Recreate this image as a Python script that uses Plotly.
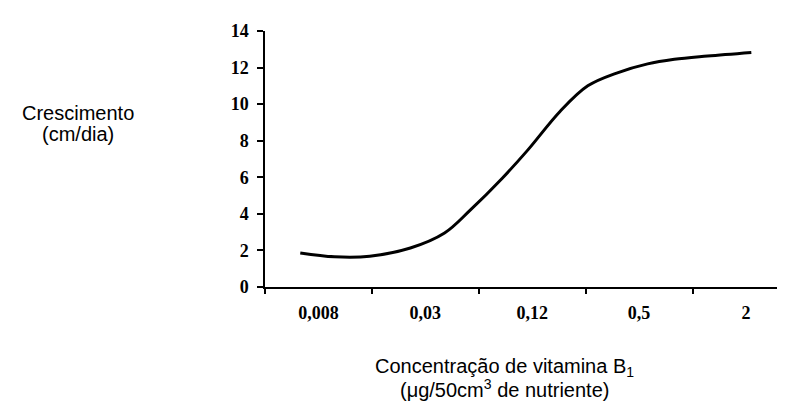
import plotly.graph_objects as go

# Category labels of the concentration axis (µg/50cm3)
conc_labels = ["0,008", "0,03", "0,12", "0,5", "2"]
conc_pos = [0, 1, 2, 3, 4]

# Curve (position along category axis, growth cm/dia)
curve_pos = [-0.17, 0.15, 0.48, 0.86, 1.18, 1.42, 1.72, 1.96, 2.26, 2.52, 2.79, 3.08, 3.33, 3.64, 4.05]
growth = [1.86, 1.65, 1.68, 2.13, 2.95, 4.2, 5.95, 7.5, 9.6, 11.0, 11.7, 12.2, 12.45, 12.63, 12.83]

y_ticks = [0, 2, 4, 6, 8, 10, 12, 14]
boundaries = [-0.5, 0.5, 1.5, 2.5, 3.5]

y_title_lines = ["Crescimento", "(cm/dia)"]
x_title_lines = ["Concentração de vitamina B<sub>1</sub>", "(μg/50cm<sup>3</sup> de nutriente)"]

fig = go.Figure()
fig.add_trace(go.Scatter(
    x=curve_pos, y=growth, mode="lines",
    line=dict(color="black", width=3, shape="spline", smoothing=1.0),
    showlegend=False, hoverinfo="skip",
))

tick_font = dict(family="Liberation Serif", size=18, color="black")

fig.update_layout(
    width=785, height=401,
    margin=dict(l=257, r=0, t=23, b=122),
    paper_bgcolor="white", plot_bgcolor="white",
    xaxis=dict(
        range=[-0.5, 4.44], showgrid=False, zeroline=False,
        showline=True, linecolor="black", linewidth=1.5,
        tickmode="array", tickvals=conc_pos, ticktext=[f"<b>{t}</b>" for t in conc_labels],
        ticks="outside", ticklen=9, tickcolor="rgba(0,0,0,0)",
        tickfont=tick_font,
        minor=dict(tickvals=boundaries, ticks="outside", ticklen=5, tickcolor="black", tickwidth=1.5),
    ),
    yaxis=dict(
        range=[0, 14], showgrid=False, zeroline=False,
        showline=True, linecolor="black", linewidth=1.5,
        tickmode="array", tickvals=y_ticks, ticktext=[f"<b>{v}</b>" for v in y_ticks],
        ticks="outside", ticklen=6, tickwidth=1.5, tickcolor="black",
        ticklabelstandoff=5,
        tickfont=tick_font,
    ),
)

PW, PH, L, B = 528.0, 256.0, 257.0, 279.0
label_font = dict(family="Liberation Sans", size=20, color="black")

for txt, (cx, cy) in zip(y_title_lines, [(70, 105), (70, 126)]):
    fig.add_annotation(text=txt, xref="paper", yref="paper",
                       x=(cx - L) / PW, y=(B - cy) / PH, xanchor="center", yanchor="middle",
                       showarrow=False, font=label_font)
for txt, (cx, cy) in zip(x_title_lines, [(496, 359), (496, 380)]):
    fig.add_annotation(text=txt, xref="paper", yref="paper",
                       x=(cx - L) / PW, y=(B - cy) / PH, xanchor="center", yanchor="middle",
                       showarrow=False, font=label_font)

fig.write_html("out.html")
